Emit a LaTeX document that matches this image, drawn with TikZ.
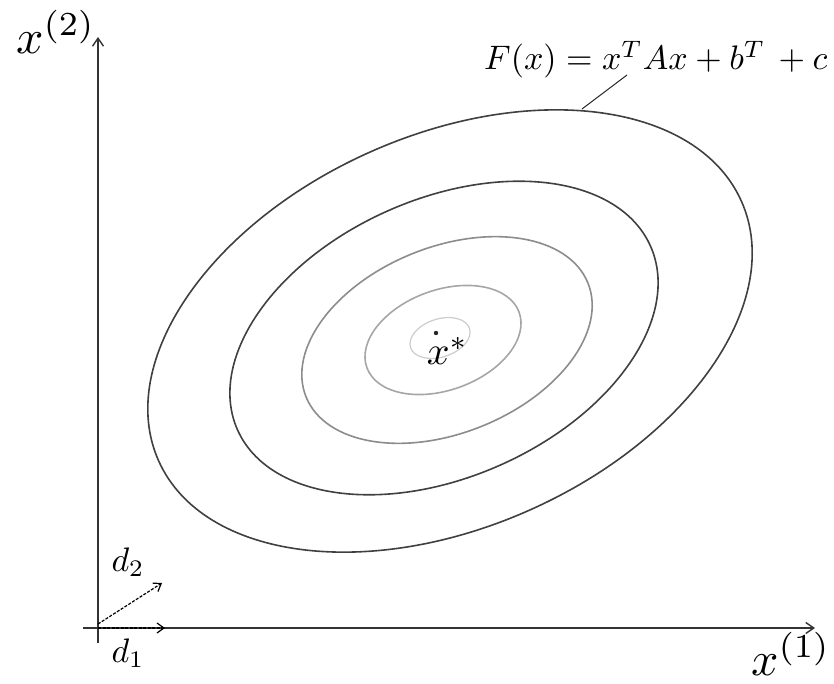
\documentclass[tikz,border=0pt]{standalone}
\usetikzlibrary{arrows.meta}
\begin{document}
\begin{tikzpicture}[x=1pt,y=1pt,
  axis/.style={line width=1.6pt,draw=black!80,-{Straight Barb[length=8pt,width=11pt,line width=1.4pt]}},
  dirvec/.style={line width=1.2pt,dash pattern=on 3pt off 1.5pt,-{Straight Barb[length=7pt,width=10pt,line width=1.2pt]}},
  lvl/.style={line width=1.6pt},
  biglbl/.style={inner sep=0pt,scale=4.8},
  medlbl/.style={inner sep=0pt,scale=3.4}]
\useasboundingbox (0,0) rectangle (834,683);
% level sets
\draw[lvl,draw=black!75] (450,352) ellipse[x radius=319,y radius=196,rotate=24];
\draw[lvl,draw=black!75] (444,345) ellipse[x radius=226,y radius=139,rotate=24];
\draw[lvl,draw=black!45] (447,343) ellipse[x radius=152,y radius=93,rotate=22];
\draw[lvl,draw=black!35] (443,343) ellipse[x radius=81,y radius=50,rotate=20];
\draw[line width=1.2pt,draw=black!20] (440,345) ellipse[x radius=31,y radius=19,rotate=18];
% minimum
\fill[black!85] (436,350) circle[radius=2.2pt];
\node[anchor=base west,inner sep=0pt,scale=4] (xs) at (426,318) {$x^{*}$};
% axes
\coordinate (ybot) at (98,40);
\coordinate (ytop) at (98,646);
\coordinate (xl) at (83,55);
\coordinate (xr) at (815,55);
\coordinate (o) at (98,55);
\draw[axis] (ybot) -- (ytop);
\draw[axis] (xl) -- (xr);
\node[biglbl] (lx2) at (56,651) {$x^{(2)}$};
\node[biglbl] (lx1) at (791,29) {$x^{(1)}$};
% direction vectors
\coordinate (d1e) at (165,55);
\coordinate (d2s) at (98,59);
\coordinate (d2e) at (162,100);
\draw[dirvec] (o) -- (d1e);
\draw[dirvec] (d2s) -- (d2e);
\node[medlbl] (ld2) at (128,121) {$d_2$};
\node[medlbl] (ld1) at (128,30) {$d_1$};
% function label
\node[medlbl,anchor=base east] (fl) at (828,613) {$F(x) = x^T A x + b^T\, + c$};
\coordinate (lt) at (582,574);
\coordinate (lh) at (627,608);
\draw[line width=1pt,black!85] (lt) -- (lh);
\end{tikzpicture}
\end{document}
